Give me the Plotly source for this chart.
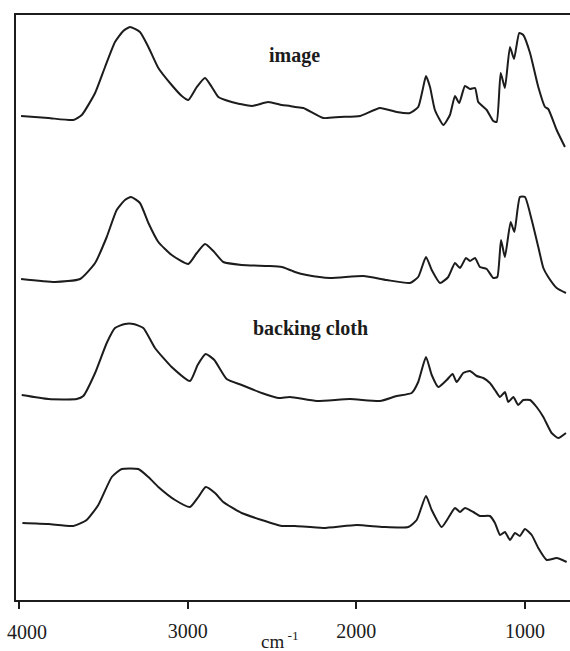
import plotly.graph_objects as go

# FTIR spectra, stacked (absorbance in arbitrary units, offsets included)
wn_1 = [3988, 3826, 3678, 3628, 3549, 3490, 3431, 3382, 3342, 3283, 3233, 3174, 3095, 3035,
        2996, 2946, 2897, 2857, 2818, 2739, 2620, 2522, 2442, 2393, 2364, 2314, 2196, 2097,
        1978, 1860, 1761, 1682, 1633, 1607, 1587, 1563, 1534, 1484, 1445, 1415, 1390, 1356,
        1326, 1296, 1277, 1227, 1188, 1168, 1144, 1119, 1089, 1065, 1034, 1010, 970, 921,
        881, 862, 812, 763]
ab_1 = [484, 482, 480, 485, 507, 533, 558, 569, 573, 568, 553, 532, 515, 504,
        500, 513, 522, 513, 503, 498, 494, 498, 495, 494, 493, 492, 482, 483,
        484, 492, 488, 487, 493, 510, 524, 513, 490, 475, 485, 504, 497, 514,
        511, 512, 498, 490, 479, 478, 527, 512, 553, 541, 567, 565, 547, 513,
        493, 491, 470, 453]

wn_2 = [3988, 3787, 3638, 3549, 3480, 3421, 3372, 3336, 3283, 3233, 3174, 3095, 2996, 2946,
        2897, 2848, 2789, 2680, 2522, 2442, 2393, 2364, 2294, 2156, 1959, 1820, 1682, 1633,
        1587, 1553, 1504, 1455, 1415, 1385, 1350, 1326, 1296, 1267, 1227, 1188, 1164, 1142,
        1119, 1085, 1063, 1030, 1000, 960, 921, 891, 862, 812, 757]
ab_2 = [321, 318, 321, 337, 363, 390, 400, 403, 397, 377, 358, 345, 336, 347,
        356, 349, 338, 335, 334, 333, 330, 328, 325, 322, 324, 320, 317, 323,
        343, 330, 317, 323, 337, 332, 342, 339, 342, 333, 331, 322, 323, 360,
        343, 378, 368, 403, 403, 380, 353, 332, 323, 312, 307]

wn_3 = [3984, 3826, 3658, 3619, 3549, 3480, 3431, 3372, 3322, 3263, 3194, 3095, 2986, 2941,
        2893, 2842, 2769, 2680, 2561, 2463, 2393, 2235, 2038, 1860, 1761, 1672, 1633, 1587,
        1553, 1514, 1464, 1429, 1405, 1366, 1326, 1286, 1247, 1208, 1178, 1148, 1119, 1099,
        1069, 1040, 1010, 970, 931, 891, 842, 802, 757]
ab_3 = [205, 201, 201, 204, 227, 257, 272, 276, 276, 272, 252, 233, 219, 235,
        246, 240, 221, 215, 207, 202, 203, 199, 201, 199, 204, 207, 218, 243,
        225, 213, 220, 226, 218, 227, 229, 224, 222, 217, 210, 203, 208, 198,
        203, 195, 200, 200, 193, 183, 167, 162, 167]

wn_4 = [3980, 3826, 3678, 3599, 3530, 3450, 3391, 3293, 3233, 3174, 3075, 2986, 2937, 2893,
        2838, 2789, 2680, 2561, 2442, 2393, 2364, 2196, 1998, 1840, 1692, 1642, 1587, 1553,
        1494, 1455, 1415, 1385, 1356, 1306, 1267, 1208, 1178, 1148, 1119, 1089, 1059, 1030,
        1000, 960, 921, 871, 812, 753]
ab_4 = [77, 76, 74, 80, 95, 123, 131, 131, 123, 113, 100, 93, 103, 113,
        107, 98, 87, 80, 74, 74, 74, 72, 75, 73, 73, 80, 104, 90,
        73, 82, 92, 88, 92, 88, 84, 84, 77, 65, 68, 60, 67, 64,
        71, 65, 52, 40, 42, 38]

x_ticks = [4000, 3000, 2000, 1000]
tick_text = ["4000", "3000", "2000", "1000"]
labels = ["image", "backing cloth"]

serif = "Liberation Serif, Times New Roman, serif"
ink = "#1c1c1c"

fig = go.Figure()
for wn, ab in [(wn_1, ab_1), (wn_2, ab_2), (wn_3, ab_3), (wn_4, ab_4)]:
    fig.add_trace(go.Scatter(
        x=wn, y=ab, mode="lines",
        line=dict(color=ink, width=2, shape="spline", smoothing=0.5),
        showlegend=False, hoverinfo="skip",
    ))

fig.add_annotation(x=2364, y=545, text="<b>%s</b>" % labels[0], showarrow=False,
                   font=dict(family=serif, size=20, color=ink))
fig.add_annotation(x=2272, y=272, text="<b>%s</b>" % labels[1], showarrow=False,
                   font=dict(family=serif, size=20, color=ink))
fig.add_annotation(x=0.477, xref="paper", y=-0.092, yref="paper",
                   text="cm<sup> -1</sup>", showarrow=False,
                   font=dict(family=serif, size=19, color=ink))

# the leftmost tick label sits just inside the page edge
fig.add_annotation(x=x_ticks[0], y=-0.0765, yref="paper", xshift=8,
                   text=tick_text[0], showarrow=False,
                   font=dict(family=serif, size=20, color=ink))

fig.update_layout(
    width=570, height=651,
    margin=dict(l=16, r=0, t=15, b=51),
    paper_bgcolor="white", plot_bgcolor="white",
    xaxis=dict(
        range=[4018, 733], tickvals=x_ticks, ticktext=[""] + tick_text[1:],
        showgrid=False, zeroline=False,
        showline=True, linecolor=ink, linewidth=2, mirror=True,
        ticks="outside", ticklen=7, tickwidth=2, tickcolor=ink,
        ticklabelstandoff=5,
        tickfont=dict(family=serif, size=20, color=ink),
    ),
    yaxis=dict(
        range=[0, 585], showticklabels=False, showgrid=False, zeroline=False,
        showline=True, linecolor=ink, linewidth=2, ticks="",
    ),
)

fig.write_html("out.html")
